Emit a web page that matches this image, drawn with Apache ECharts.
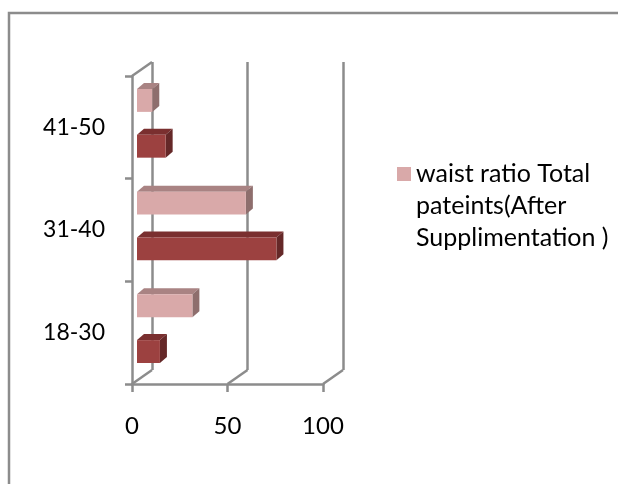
<!DOCTYPE html>
<html>
<head>
<meta charset="utf-8">
<script src="https://cdn.jsdelivr.net/npm/echarts@6/dist/echarts.min.js"></script>
<style>
  html, body { margin: 0; padding: 0; background: #ffffff; }
  #chart { width: 618px; height: 484px; }
</style>
</head>
<body>
<div id="chart"></div>
<script>
var categories = ['18-30', '31-40', '41-50'];
var beforeValues = [12, 73, 15];
var afterValues = [29, 57, 8];
var xTicks = [0, 50, 100];
var afterName = 'waist ratio Total\npateints(After\nSupplimentation )';
var beforeName = 'waist ratio Total pateints(Before Supplimentation)';

var FONT = 'Lato';
var GRAY = '#8c8c8c';
var DX = 20, DY = -14;

function barRenderer(offFrac, colors) {
  return function (params, api) {
    var cat = api.value(1);
    var val = api.value(0);
    var band = api.size([0, 1])[1];
    var p0 = api.coord([0, cat]);
    var p1 = api.coord([val, cat]);
    var x0 = p0[0] + 5, x1 = p1[0] + 5;
    var yc = p0[1] + offFrac * band;
    var h = 0.223 * band;
    var yt = yc - h / 2, yb = yc + h / 2;
    var dx = 7, dy = -6;
    return {
      type: 'group',
      children: [
        { type: 'polygon', shape: { points: [[x0, yt], [x1, yt], [x1 + dx, yt + dy], [x0 + dx, yt + dy]] }, style: { fill: colors[1] } },
        { type: 'polygon', shape: { points: [[x1, yt], [x1 + dx, yt + dy], [x1 + dx, yb + dy], [x1, yb]] }, style: { fill: colors[2] } },
        { type: 'rect', shape: { x: x0, y: yt, width: x1 - x0, height: h }, style: { fill: colors[0] } }
      ]
    };
  };
}

function diagRenderer(params, api) {
  var cs = params.coordSys;
  var x = api.coord([api.value(0), 0])[0];
  var kind = api.value(1);
  var y = kind === 0 ? cs.y + cs.height : cs.y;
  return {
    type: 'line',
    shape: { x1: x, y1: y, x2: x + DX, y2: y + DY },
    style: { stroke: GRAY, lineWidth: 2.5 }
  };
}

var diagData = xTicks.map(function (v) { return [v, 0]; });
diagData.push([0, 1]);

var chart = echarts.init(document.getElementById('chart'));
chart.setOption({
  animation: false,
  backgroundColor: '#ffffff',
  graphic: [{
    type: 'rect', z: 0,
    shape: { x: 9, y: 13, width: 700, height: 600 },
    style: { fill: 'none', stroke: GRAY, lineWidth: 2.5 }
  }],
  legend: {
    data: [afterName],
    left: 392, top: 89,
    orient: 'vertical',
    icon: 'rect', itemWidth: 14, itemHeight: 14,
    formatter: function (name) { return '\n\n' + name; },
    textStyle: { fontFamily: FONT, fontSize: 25, color: '#000', lineHeight: 32 }
  },
  grid: [
    { left: 132, right: 295, top: 76, bottom: 100 },
    { left: 132 + DX, right: 295 - DX, top: 76 + DY, bottom: 100 - DY }
  ],
  xAxis: [
    {
      gridIndex: 0, type: 'value', min: 0, max: 100, interval: 50,
      axisLine: { show: true, lineStyle: { color: GRAY, width: 2.5 } },
      axisTick: { show: true, length: 8, lineStyle: { color: GRAY, width: 2.5 } },
      splitLine: { show: false },
      axisLabel: { fontFamily: FONT, fontSize: 24, color: '#000', margin: 30 }
    },
    {
      gridIndex: 1, type: 'value', min: 0, max: 100, interval: 50,
      axisLine: { show: false }, axisTick: { show: false }, axisLabel: { show: false },
      splitLine: { show: true, lineStyle: { color: GRAY, width: 2.5 } }
    }
  ],
  yAxis: [
    {
      gridIndex: 0, type: 'category', data: categories,
      axisLine: { show: true, lineStyle: { color: GRAY, width: 2.5 } },
      axisTick: { show: true, length: 7, lineStyle: { color: GRAY, width: 2.5 } },
      axisLabel: { fontFamily: FONT, fontSize: 23, color: '#000', margin: 27 }
    },
    {
      gridIndex: 1, type: 'category', data: categories,
      axisLine: { show: false }, axisTick: { show: false }, axisLabel: { show: false }
    }
  ],
  series: [
    {
      type: 'custom', name: 'axes3d', xAxisIndex: 0, yAxisIndex: 0, z: 1,
      renderItem: diagRenderer, data: diagData, silent: true
    },
    {
      type: 'custom', name: beforeName, xAxisIndex: 0, yAxisIndex: 0, z: 3,
      itemStyle: { color: '#9c4140' },
      renderItem: barRenderer(0.184, ['#9c4140', '#7a2f2f', '#652828']),
      data: beforeValues.map(function (v, i) { return [v, i]; })
    },
    {
      type: 'custom', name: afterName, xAxisIndex: 0, yAxisIndex: 0, z: 3,
      itemStyle: { color: '#d9a9a9' },
      renderItem: barRenderer(-0.262, ['#d9a9a9', '#a98383', '#8e6e6d']),
      data: afterValues.map(function (v, i) { return [v, i]; })
    }
  ]
});
</script>
</body>
</html>
